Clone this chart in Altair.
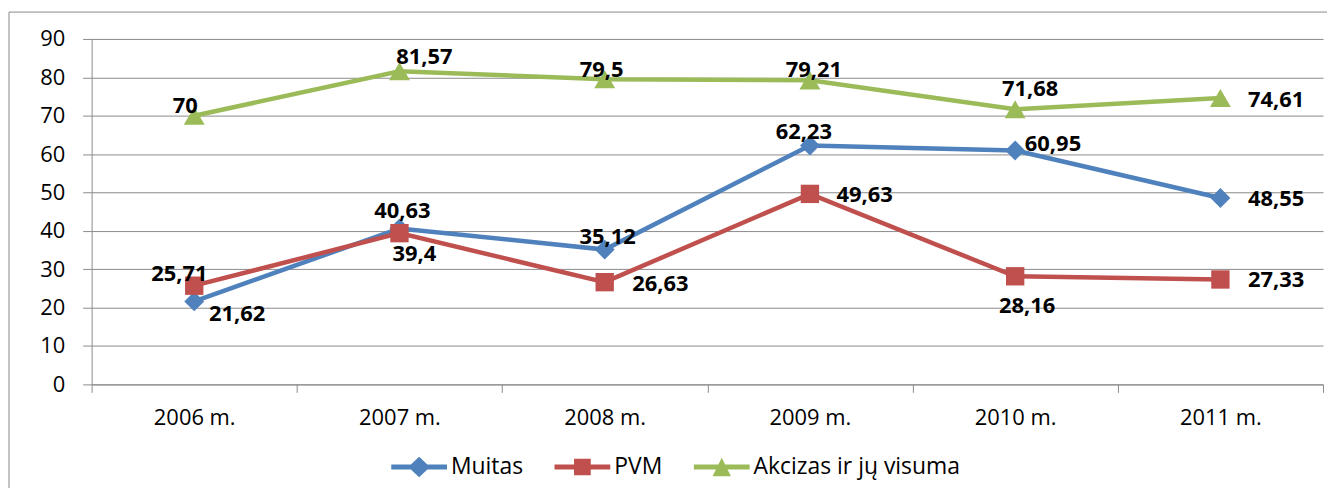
import altair as alt
import pandas as pd

# ---- data ----
years = ["2006 m.", "2007 m.", "2008 m.", "2009 m.", "2010 m.", "2011 m."]
series = ["Muitas", "PVM", "Akcizas ir jų visuma"]
muitas = [21.62, 40.63, 35.12, 62.23, 60.95, 48.55]
pvm = [25.71, 39.4, 26.63, 49.63, 28.16, 27.33]
akcizas = [70, 81.57, 79.5, 79.21, 71.68, 74.61]
y_ticks = [0, 10, 20, 30, 40, 50, 60, 70, 80, 90]

colors = ["#4F81BD", "#C0504D", "#9BBB59"]
FONT = "Open Sans"
GRAY = "#8a8a8a"

rows = []
for s, vals in zip(series, [muitas, pvm, akcizas]):
    for yr, v in zip(years, vals):
        rows.append({"year": yr, "series": s, "value": v,
                     "label": str(v).replace(".", ",")})
df = pd.DataFrame(rows)

# label placement offsets (px) per series / year index
label_offsets = {
    "Muitas": [(43, 13), (3, -17), (3, -13), (-6, -14), (38, -6), (56, 1)],
    "PVM": [(-15, -12), (15, 21), (56, 2), (55, 1), (12, 30), (56, 1)],
    "Akcizas ir jų visuma": [(-9, -10), (25, -14), (-3, -9), (4, -10), (15, -20), (56, 2)],
}

x_enc = alt.X(
    "year:N", sort=years, title=None, bandPosition=0.5,
    scale=alt.Scale(type="band", domain=years, paddingInner=0, paddingOuter=0),
    axis=alt.Axis(labelAngle=0, tickBand="extent", tickSize=8, labelPadding=15,
                  grid=False, domainColor=GRAY, tickColor=GRAY),
)
y_enc = alt.Y(
    "value:Q", title=None,
    scale=alt.Scale(domain=[0, 90], nice=False, zero=True),
    axis=alt.Axis(values=y_ticks, tickSize=9, labelPadding=18, grid=True,
                  gridColor=GRAY, gridWidth=1, domainColor=GRAY, tickColor=GRAY),
)

base = alt.Chart(df)

marker_specs = {
    "Muitas": ("diamond", 400),
    "PVM": ("square", 340),
    "Akcizas ir jų visuma": ("triangle-up", 440),
}
series_layers = []
for s, c in zip(series, colors):
    shp, sz = marker_specs[s]
    sub = base.transform_filter(alt.datum.series == s)
    series_layers.append(sub.mark_line(strokeWidth=4.5, color=c).encode(x=x_enc, y=y_enc))
    series_layers.append(
        sub.mark_point(shape=shp, size=sz, filled=True, opacity=1, strokeWidth=0, color=c)
        .encode(x=x_enc, y=y_enc)
    )

text_layers = []
for s in series:
    for i, yr in enumerate(years):
        dx, dy = label_offsets[s][i]
        text_layers.append(
            base.transform_filter((alt.datum.series == s) & (alt.datum.year == yr))
            .mark_text(font=FONT, fontSize=22, fontWeight="bold", color="black",
                       align="center", baseline="middle", dx=dx, dy=dy)
            .encode(x=x_enc, y=y_enc, text="label:N")
        )

legend_paths = [
    "M-1,-0.09H1V0.09H-1Z M0,-0.37L0.39,0L0,0.37L-0.39,0Z",
    "M-1,-0.09H1V0.09H-1Z M-0.3,-0.3H0.3V0.3H-0.3Z",
    "M-1,-0.09H1V0.09H-1Z M0,-0.33L0.33,0.33H-0.33Z",
]
leg_common = dict(orient="none", legendX=301, legendY=402, direction="horizontal",
                  title=None, symbolSize=3136, symbolStrokeWidth=0, symbolOpacity=1,
                  labelFont=FONT, labelFontSize=23, labelColor="black", labelLimit=500,
                  labelOffset=4, columnPadding=31, padding=0)
legend_layer = base.transform_filter("false").mark_point(filled=True, opacity=1).encode(
    x=x_enc, y=y_enc,
    color=alt.Color("series:N", scale=alt.Scale(domain=series, range=colors),
                    legend=alt.Legend(**leg_common)),
    shape=alt.Shape("series:N", scale=alt.Scale(domain=series, range=legend_paths),
                    legend=alt.Legend(**leg_common)),
)

frame = alt.Chart(pd.DataFrame({"a": [0]})).mark_rect(
    fill="transparent", stroke=GRAY, strokeWidth=1
).encode(x=alt.value(-83), x2=alt.value(1300), y=alt.value(-27), y2=alt.value(700))

chart = alt.layer(frame, *series_layers, *text_layers, legend_layer).properties(
    width=1237, height=347,
    padding={"left": 84, "top": 30, "right": 4, "bottom": 103},
    autosize=alt.AutoSizeParams(type="none"),
    background="white",
).configure_view(stroke=None).configure_axis(
    labelFont=FONT, labelFontSize=22, labelColor="black",
)

chart.save("out.html", embed_options={"renderer": "svg", "actions": False})
